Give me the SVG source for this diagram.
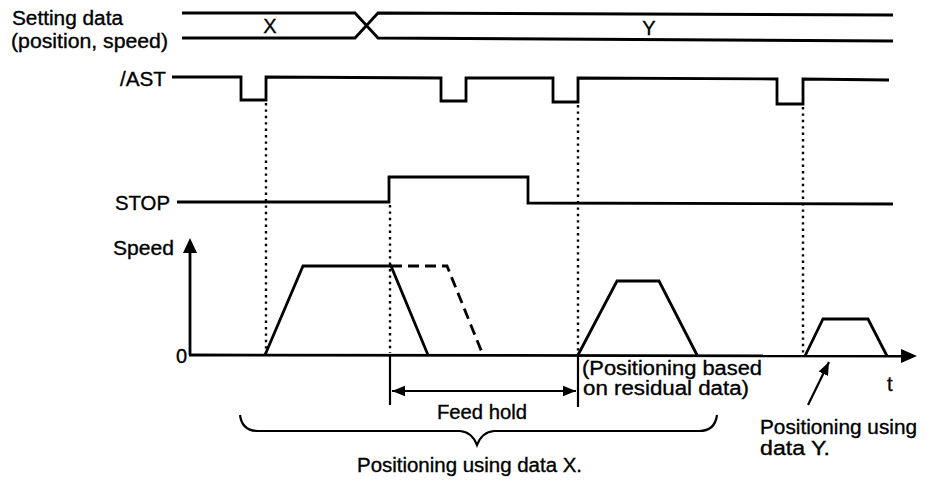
<svg xmlns="http://www.w3.org/2000/svg" width="926" height="484" viewBox="0 0 926 484">
<style>
  text { font-family: "Liberation Sans", Arial, sans-serif; font-size: 20px; fill: #000; stroke: #000; stroke-width: 0.35; }
  .sig { fill: none; stroke: #000; stroke-width: 2.8; stroke-linejoin: miter; }
  .dot { fill: none; stroke: #000; stroke-width: 2.4; stroke-dasharray: 2.4 4; }
  .dash { fill: none; stroke: #000; stroke-width: 2.8; stroke-dasharray: 11 6; }
  .thin { fill: none; stroke: #000; stroke-width: 2.2; }
</style>
<defs>
  <marker id="ahs" viewBox="0 0 10 10" refX="10" refY="5" markerWidth="13" markerHeight="13" markerUnits="userSpaceOnUse" orient="auto-start-reverse">
    <path d="M0,1 L10,5 L0,9 Z" fill="#000"/>
  </marker>
</defs>

<g id="labels">
  <text x="12" y="25" textLength="111" lengthAdjust="spacingAndGlyphs">Setting data</text>
  <text x="11" y="48" textLength="157" lengthAdjust="spacingAndGlyphs">(position, speed)</text>
  <text x="120" y="86" textLength="46" lengthAdjust="spacingAndGlyphs">/AST</text>
  <text x="115" y="210" textLength="55" lengthAdjust="spacingAndGlyphs">STOP</text>
  <text x="113" y="255" textLength="61" lengthAdjust="spacingAndGlyphs">Speed</text>
  <text x="176" y="363">0</text>
  <text x="887" y="391">t</text>
</g>

<g id="setting-data">
  <path class="sig" d="M182,13 L355,13 L378,38 L893,41"/>
  <path class="sig" d="M182,38 L355,38 L378,13 L893,15"/>
  <text x="270" y="33" text-anchor="middle">X</text>
  <text x="649" y="35" text-anchor="middle">Y</text>
</g>

<g id="ast">
  <path class="sig" d="M172,77 L241,77 L241,100 L266,100 L266,77 L441,78 L441,101 L466,101 L466,78 L553,78 L553,102 L578,102 L578,78 L777,79 L777,104 L803,104 L803,79 L889,80"/>
</g>

<g id="stop">
  <path class="sig" d="M177,202 L389,202 L389,177 L528,177 L528,203 L893,204"/>
</g>

<g id="speed-axes">
  <line class="sig" x1="190" y1="355" x2="190" y2="246"/>
  <path d="M190,238 L183,253 L197,253 Z" fill="#000"/>
  <line class="sig" x1="189" y1="355" x2="905" y2="356"/>
  <path d="M917,356 L901,349 L901,363 Z" fill="#000"/>
</g>

<g id="speed-profiles">
  <path class="sig" d="M265,355 L303,266 L391,266 L428,355"/>
  <path class="dash" d="M391,266 L447,266 L483,355"/>
  <path class="sig" d="M578,355 L617,281 L659,281 L697,355"/>
  <path class="sig" d="M805,356 L823,319 L868,319 L887,356"/>
</g>

<g id="connectors">
  <line class="dot" x1="266" y1="103" x2="266" y2="353"/>
  <line class="dot" x1="390" y1="205" x2="390" y2="353"/>
  <line class="dot" x1="578" y1="105" x2="578" y2="353"/>
  <line class="dot" x1="803" y1="107" x2="803" y2="354"/>
  <line class="thin" x1="390" y1="355" x2="390" y2="405"/>
  <line class="thin" x1="578" y1="355" x2="578" y2="407"/>
  <line class="thin" x1="392" y1="391" x2="576" y2="391" marker-start="url(#ahs)" marker-end="url(#ahs)"/>
  <line class="thin" x1="808" y1="405" x2="829" y2="362" marker-end="url(#ahs)"/>
  <path class="thin" d="M240,415 Q242,431 258,431 L460,431 Q472,432 477,445 Q482,432 494,431 L699,431 Q715,431 717,415"/>
</g>

<g id="annotations">
  <text x="437" y="419" textLength="90" lengthAdjust="spacingAndGlyphs">Feed hold</text>
  <text x="582" y="375" textLength="180" lengthAdjust="spacingAndGlyphs">(Positioning based</text>
  <text x="583" y="395" textLength="166" lengthAdjust="spacingAndGlyphs">on residual data)</text>
  <text x="760" y="434" textLength="157" lengthAdjust="spacingAndGlyphs">Positioning using</text>
  <text x="760" y="455" textLength="70" lengthAdjust="spacingAndGlyphs">data Y.</text>
  <text x="357" y="472" textLength="225" lengthAdjust="spacingAndGlyphs">Positioning using data X.</text>
</g>
</svg>
